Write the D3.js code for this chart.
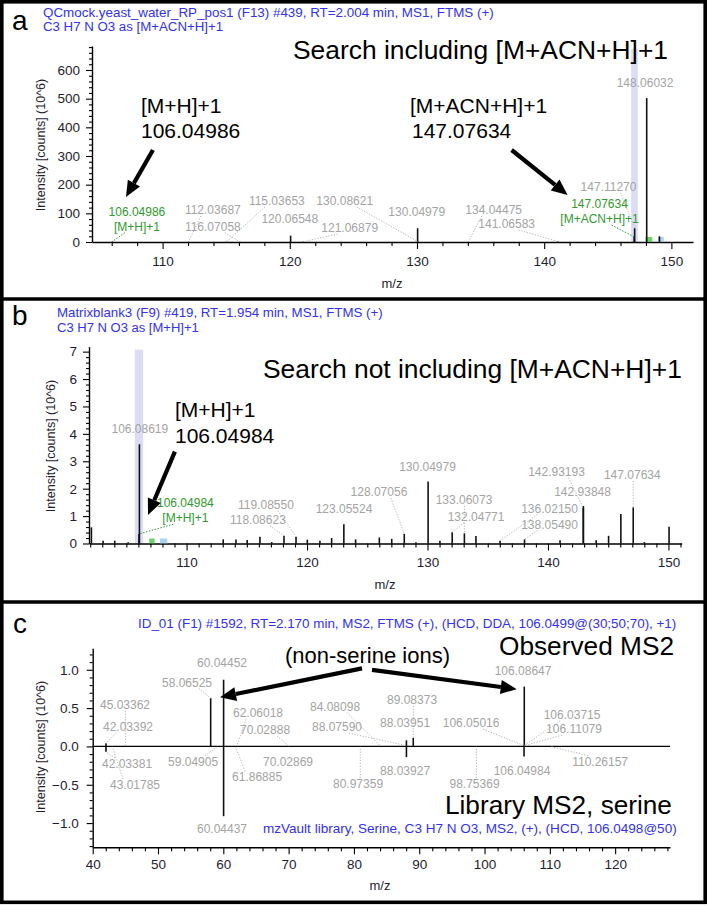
<!DOCTYPE html>
<html><head><meta charset="utf-8">
<script src="https://cdn.jsdelivr.net/npm/d3@7/dist/d3.min.js"></script>
<style>
body{margin:0;background:#fff}
svg{display:block;font-family:Arial,"Liberation Sans",sans-serif}
</style></head><body>
<svg id="chart" width="708" height="906"></svg>
<script>
// ================= DATA =================
// Panel a : QCmock sample, search including [M+ACN+H]+1
const aMz  = [106.04986,112.03687,115.03653,116.07058,120.06548,121.06879,130.04979,130.08621,134.04475,141.06583,147.07634,147.11270,148.06032,149.06370];
const aInt = [2,1,1,1,22,1,48,1,1,2,18,48,502,20];
const aXTicks = [110,120,130,140,150];
const aYTicks = [0,100,200,300,400,500,600];
const aLabelText = ["112.03687","116.07058","115.03653","120.06548","130.08621","121.06879","130.04979","134.04475","141.06583","147.11270","148.06032"];
const aLabelMz   = [113.95,113.95,118.98,120.0,124.32,124.71,129.98,136.03,137.05,145.06,147.93];
const aLabelInt  = [111.6,53.4,143,80.2,143,48.8,105.7,111.6,62.8,192.9,555.6];
const aMatchText = ["106.04986","147.07634"];
const aMatchSub  = ["[M+H]+1","[M+ACN+H]+1"];
const aMatchMz   = [107.98,144.35];
const aMatchInt  = [105.7,132.5];
const aWindow    = [146.84,147.36];      // extraction window (m/z)
const aIsoGreen  = [147.96,148.5];
const aIsoBlue   = [148.95,149.4];
const aArrows    = [[109.24,320.9,107.12,157],[137.44,320.9,141.84,164]];

// Panel b : Matrixblank3, search not including [M+ACN+H]+1
const bMz  = [102.10,103.07,104.04,105.15,106.04984,106.08619,113.04,114.10,115.03,116.09,117.07,118.08623,119.08550,120.02,121.07,122.04,123.05524,124.03,126.00,127.03,128.07056,129.04,130.04979,131.03,132.04771,133.06073,134.02,136.02150,138.05490,141.00,142.93193,142.93848,144.00,145.03,146.05,147.07634,148.00,150.05];
const bInt = [0.59,0.10,0.10,0.05,0.35,3.62,0.15,0.15,0.13,0.25,0.05,0.28,0.25,0.14,0.10,0.20,0.70,0.15,0.22,0.17,0.35,0.05,2.26,0.10,0.41,0.37,0.27,0.10,0.15,0.12,1.30,1.37,0.12,0.28,1.08,1.32,0.05,0.61];
const bXTicks = [110,120,130,140,150];
const bYTicks = [0,1,2,3,4,5,6,7];
const bLabelText = ["106.08619","119.08550","118.08623","123.05524","128.07056","130.04979","133.06073","132.04771","136.02150","138.05490","142.93193","142.93848","147.07634"];
const bLabelMz   = [106.12,116.59,115.92,123.07,125.97,130.0,133.03,134.03,140.13,140.13,140.71,142.87,147.0];
const bLabelInt  = [4.17,1.41,0.86,1.25,1.87,2.80,1.59,0.98,1.28,0.70,2.62,1.89,2.50];
const bMatchText = ["106.04984"];
const bMatchSub  = ["[M+H]+1"];
const bMatchMz   = [109.9];
const bMatchInt  = [1.47];
const bWindow    = [105.7,106.4];
const bIsoGreen  = [106.9,107.35];
const bIsoBlue   = [107.8,108.4];
const bArrows    = [[109.03,3.35,106.8,1.04]];

// Panel c : observed MS2 (up) vs mzVault library MS2 of serine (down)
const cObsMz  = [42.03392,45.03362,58.06525,60.04452,62.06018,70.02888,84.08098,88.03951,88.07590,89.08373,106.03715,106.05016,106.08647,106.11079];
const cObsInt = [0.04,0.005,0.63,0.87,0.005,0.005,0.005,0.08,0.01,0.11,0.01,0.01,0.78,0.01];
const cLibMz  = [42.03381,43.01785,59.04905,60.04437,61.86885,70.02869,80.97359,88.03927,98.75369,106.04984,110.26157];
const cLibInt = [-0.07,-0.005,-0.005,-0.91,-0.005,-0.005,-0.005,-0.14,-0.005,-0.13,-0.005];
const cXTicks = [40,50,60,70,80,90,100,110,120];
const cYTicks = [-1.0,-0.5,0.0,0.5,1.0];
const cLabelText = ["60.04452","58.06525","45.03362","42.03392","62.06018","70.02888","84.08098","88.07590","89.08373","88.03951","106.05016","106.08647","106.03715","106.11079",
                    "42.03381","43.01785","59.04905","61.86885","70.02869","60.04437","80.97359","88.03927","98.75369","106.04984","110.26157"];
const cLabelMz   = [59.80,54.44,44.95,45.41,65.31,66.39,77.11,77.41,88.90,87.83,97.94,105.90,113.40,113.70,
                    45.26,46.48,55.37,65.17,69.91,59.80,80.63,87.83,98.47,105.74,117.70];
const cLabelInt  = [1.086,0.833,0.542,0.258,0.433,0.215,0.520,0.251,0.607,0.303,0.303,0.990,0.411,0.225,
                    -0.228,-0.505,-0.198,-0.402,-0.198,-1.077,-0.49,-0.320,-0.49,-0.316,-0.198];
const cArrows    = [[81.24,1.018,59.5,0.642],[82.77,0.999,104.93,0.747]];

// ================= DRAWING =================
const svg = d3.select("#chart");
const GRAY = "#a4a4a4", GREEN = "#2f9a2f", BLUE = "#3232f0", TICK = "#1e1e32";

function fitText(t, width) {
  const len = t.node().getComputedTextLength();
  const fs = parseFloat(t.attr("font-size"));
  t.attr("font-size", (fs * width / len).toFixed(2));
}

function arrow(g, x1, y1, x2, y2) {
  const a = Math.atan2(y2 - y1, x2 - x1), L = 16, W = 7;
  const bx = x2 - L * Math.cos(a), by = y2 - L * Math.sin(a);
  g.append("line").attr("x1", x1).attr("y1", y1).attr("x2", bx).attr("y2", by)
    .attr("stroke", "#000").attr("stroke-width", 4.2);
  g.append("path").attr("fill", "#000")
    .attr("d", `M${x2},${y2}L${bx + W * Math.sin(a)},${by - W * Math.cos(a)}L${bx - W * Math.sin(a)},${by + W * Math.cos(a)}Z`);
}

function drawPanel(P) {
  const g = svg.append("g");
  const x = d3.scaleLinear().domain(P.xDomain).range(P.xRange);
  const y = d3.scaleLinear().domain(P.yDomain).range(P.yRange);
  const y0 = y(0);

  // extraction window band
  if (P.window) {
    g.append("rect").attr("x", x(P.window[0])).attr("width", x(P.window[1]) - x(P.window[0]))
      .attr("y", y(P.yDomain[1] * 0.985)).attr("height", y0 - y(P.yDomain[1] * 0.985))
      .attr("fill", "#dcdcf4");
  }

  // axes
  const xAxisY = P.xAxisAt !== undefined ? y(P.xAxisAt) : y0;
  const minorX = d3.range(Math.ceil(P.xDomain[0] / P.xMinor) * P.xMinor, P.xDomain[1], P.xMinor)
    .filter(v => !P.xTicks.includes(Math.round(v * 1000) / 1000));
  const gxm = g.append("g").attr("transform", `translate(0,${xAxisY})`)
    .call(d3.axisBottom(x).tickValues(minorX).tickSize(4).tickFormat(""));
  gxm.select(".domain").remove();
  const gx = g.append("g").attr("transform", `translate(0,${xAxisY})`)
    .call(d3.axisBottom(x).tickValues(P.xTicks).tickSize(7).tickSizeOuter(0).tickPadding(P.xPad));
  const minorY = d3.range(P.yMinorStart, P.yDomain[1], P.yMinor)
    .filter(v => !P.yTicks.some(t => Math.abs(t - v) < 1e-6));
  const gym = g.append("g").attr("transform", `translate(${P.xRange[0]},0)`)
    .call(d3.axisLeft(y).tickValues(minorY).tickSize(3).tickFormat(""));
  gym.select(".domain").remove();
  const gy = g.append("g").attr("transform", `translate(${P.xRange[0]},0)`)
    .call(d3.axisLeft(y).tickValues(P.yTicks).tickSize(6).tickSizeOuter(0).tickPadding(P.yPad).tickFormat(P.yFmt));
  g.selectAll(".domain").attr("stroke", "#000").attr("stroke-width", 1.4);
  g.selectAll(".tick line").attr("stroke", "#000").attr("stroke-width", 1.1);
  [gx, gy].forEach(a => a.selectAll("text").attr("fill", TICK).attr("font-size", 13.5)
    .attr("font-family", "Arial, 'Liberation Sans', sans-serif"));

  if (P.zeroLine) {
    g.append("line").attr("x1", P.xRange[0]).attr("x2", P.xRange[1]).attr("y1", y0).attr("y2", y0)
      .attr("stroke", "#000").attr("stroke-width", 1.3);
  }

  // axis titles
  g.append("text").attr("x", P.xTitle[0]).attr("y", P.xTitle[1]).attr("text-anchor", "middle")
    .attr("dy", "0.35em").attr("font-size", 13).attr("fill", TICK).text("m/z");
  g.append("text").attr("transform", `translate(${P.yTitle[0]},${P.yTitle[1]}) rotate(-90)`)
    .attr("text-anchor", "middle").attr("dy", "0.35em").attr("font-size", 12.5).attr("fill", TICK)
    .text("Intensity [counts] (10^6)");

  // isotope markers
  (P.iso || []).forEach(([r, col]) => {
    g.append("rect").attr("x", x(r[0])).attr("width", x(r[1]) - x(r[0]))
      .attr("y", y0 - 5).attr("height", 5).attr("fill", col).attr("opacity", 0.75);
  });

  // peaks (sticks)
  P.series.forEach(([mz, it]) => {
    g.append("g").selectAll("line").data(mz.map((m, i) => [m, it[i]])).join("line")
      .attr("x1", d => x(d[0])).attr("x2", d => x(d[0]))
      .attr("y1", y0).attr("y2", d => y(d[1]))
      .attr("stroke", "#111").attr("stroke-width", 1.6);
  });

  function findPeak(val, below) {
    for (const [mz, it] of P.series) {
      for (let i = 0; i < mz.length; i++) {
        if (Math.abs(mz[i] - val) < 1e-6 && ((it[i] < 0) === below)) return [mz[i], it[i]];
      }
    }
    for (const [mz, it] of P.series) {
      for (let i = 0; i < mz.length; i++) if (Math.abs(mz[i] - val) < 1e-6) return [mz[i], it[i]];
    }
    return null;
  }
  function leader(lx, ly, below, peak, col, dash) {
    if (!peak) return;
    const px = x(peak[0]), py = y(peak[1]);
    const sy = below ? ly - 6 : ly + 6;
    const sx = Math.max(lx - 12, Math.min(lx + 12, px));
    const len = Math.hypot(px - sx, py - sy);
    if (Math.abs(px - lx) < 8 && len < 14) return;
    if (len < 5) return;
    g.append("line").attr("x1", sx).attr("y1", sy).attr("x2", px).attr("y2", py)
      .attr("stroke", col).attr("stroke-width", 1).attr("stroke-dasharray", dash);
  }

  // gray labels
  P.labels.text.forEach((t, i) => {
    const lx = x(P.labels.mz[i]), ly = y(P.labels.int[i]);
    const below = P.labels.int[i] < 0;
    leader(lx, ly, below, findPeak(parseFloat(t), below), "#b4b4b4", "1.2,1.6");
    g.append("text").attr("x", lx).attr("y", ly).attr("dy", "0.35em").attr("text-anchor", "middle")
      .attr("font-size", 12).attr("fill", GRAY).text(t);
  });
  // matched (green) labels
  if (P.match) P.match.text.forEach((t, i) => {
    const lx = x(P.match.mz[i]), ly = y(P.match.int[i]);
    leader(lx, ly + 15, false, findPeak(parseFloat(t), false), GREEN, "1.5,1.5");
    g.append("text").attr("x", lx).attr("y", ly).attr("dy", "0.35em").attr("text-anchor", "middle")
      .attr("font-size", 12).attr("fill", GREEN).text(t);
    g.append("text").attr("x", lx).attr("y", ly + 15).attr("dy", "0.35em").attr("text-anchor", "middle")
      .attr("font-size", 12).attr("fill", GREEN).text(P.match.sub[i]);
  });

  // annotation arrows
  P.arrows.forEach(a => arrow(g, x(a[0]), y(a[1]), x(a[2]), y(a[3])));

  // header / annotation texts
  P.texts.forEach(t => {
    const el = g.append("text").attr("x", t.x).attr("y", t.y).attr("font-size", t.size)
      .attr("fill", t.color).text(t.text);
    if (t.fit) fitText(el, t.fit);
  });
}

// ---- Panel a ----
drawPanel({
  xDomain: [104.45, 151.7], xRange: [92, 693],
  yDomain: [0, 683.7], yRange: [242, 46],
  xTicks: aXTicks, xMinor: 2, xPad: 7,
  yTicks: aYTicks, yMinor: 20, yMinorStart: 0, yPad: 6, yFmt: d3.format("d"),
  xTitle: [392, 283], yTitle: [41, 145],
  window: aWindow,
  iso: [[aIsoGreen, "#3cc43c"], [aIsoBlue, "#8fc4ea"]],
  series: [[aMz, aInt]],
  labels: {text: aLabelText, mz: aLabelMz, int: aLabelInt},
  match: {text: aMatchText, sub: aMatchSub, mz: aMatchMz, int: aMatchInt},
  arrows: aArrows,
  texts: [
    {text: "a", x: 12, y: 30, size: 28, color: "#000"},
    {text: "QCmock.yeast_water_RP_pos1 (F13) #439, RT=2.004 min, MS1, FTMS (+)", x: 43, y: 16.5, size: 12.5, color: BLUE, fit: 451},
    {text: "C3 H7 N O3 as [M+ACN+H]+1", x: 43, y: 31, size: 12.5, color: BLUE, fit: 180},
    {text: "Search including [M+ACN+H]+1", x: 293, y: 59, size: 24, color: "#000", fit: 375},
    {text: "[M+H]+1", x: 141, y: 113, size: 21, color: "#000"},
    {text: "106.04986", x: 141, y: 138, size: 21, color: "#000"},
    {text: "[M+ACN+H]+1", x: 410, y: 113, size: 21, color: "#000"},
    {text: "147.07634", x: 412, y: 138, size: 21, color: "#000"}
  ]
});

// ---- Panel b ----
drawPanel({
  xDomain: [101.9, 151.1], xRange: [89, 681.7],
  yDomain: [0, 7.18], yRange: [543.5, 346.7],
  xTicks: bXTicks, xMinor: 1, xPad: 7,
  yTicks: bYTicks, yMinor: 0.2, yMinorStart: 0, yPad: 6, yFmt: d3.format("d"),
  xTitle: [385, 584], yTitle: [51, 446],
  window: bWindow,
  iso: [[bIsoGreen, "#3cc43c"], [bIsoBlue, "#8fc4ea"]],
  series: [[bMz, bInt]],
  labels: {text: bLabelText, mz: bLabelMz, int: bLabelInt},
  match: {text: bMatchText, sub: bMatchSub, mz: bMatchMz, int: bMatchInt},
  arrows: bArrows,
  texts: [
    {text: "b", x: 12, y: 325, size: 28, color: "#000"},
    {text: "Matrixblank3 (F9) #419, RT=1.954 min, MS1, FTMS (+)", x: 57, y: 316.5, size: 12.5, color: BLUE, fit: 326},
    {text: "C3 H7 N O3 as [M+H]+1", x: 57, y: 331.5, size: 12.5, color: BLUE, fit: 142},
    {text: "Search not including [M+ACN+H]+1", x: 263, y: 377.5, size: 24, color: "#000", fit: 419},
    {text: "[M+H]+1", x: 175, y: 416.5, size: 21, color: "#000"},
    {text: "106.04984", x: 175, y: 443, size: 21, color: "#000"}
  ]
});

// ---- Panel c ----
drawPanel({
  xDomain: [40, 128.4], xRange: [92.7, 670],
  yDomain: [-1.316, 1.28], yRange: [847.3, 648.3],
  xAxisAt: -1.316,
  xTicks: cXTicks, xMinor: 2, xPad: 5,
  yTicks: cYTicks, yMinor: 0.1, yMinorStart: -1.3, yPad: 8, yFmt: d3.format(".1f"),
  xTitle: [380, 885], yTitle: [41, 747],
  zeroLine: true,
  series: [[cObsMz, cObsInt], [cLibMz, cLibInt]],
  labels: {text: cLabelText, mz: cLabelMz, int: cLabelInt},
  arrows: cArrows,
  texts: [
    {text: "c", x: 13, y: 633, size: 28, color: "#000"},
    {text: "ID_01 (F1) #1592, RT=2.170 min, MS2, FTMS (+), (HCD, DDA, 106.0499@(30;50;70), +1)", x: 138, y: 627.5, size: 12.5, color: BLUE, fit: 539},
    {text: "mzVault library, Serine, C3 H7 N O3, MS2,  (+), (HCD, 106.0498@50)", x: 263, y: 832.5, size: 12.5, color: BLUE, fit: 414},
    {text: "(non-serine ions)", x: 285, y: 662.5, size: 20, color: "#000", fit: 165},
    {text: "Observed MS2", x: 499, y: 655, size: 24, color: "#000", fit: 175},
    {text: "Library MS2, serine", x: 445, y: 813.5, size: 24, color: "#000", fit: 227}
  ]
});

// panel frames
svg.append("rect").attr("x", 1.8).attr("y", 1.8).attr("width", 703.4).attr("height", 900.5)
  .attr("fill", "none").attr("stroke", "#000").attr("stroke-width", 3.6);
[299, 602].forEach(yy => svg.append("line").attr("x1", 0).attr("x2", 707).attr("y1", yy).attr("y2", yy)
  .attr("stroke", "#000").attr("stroke-width", 3.6));
</script>
</body></html>
